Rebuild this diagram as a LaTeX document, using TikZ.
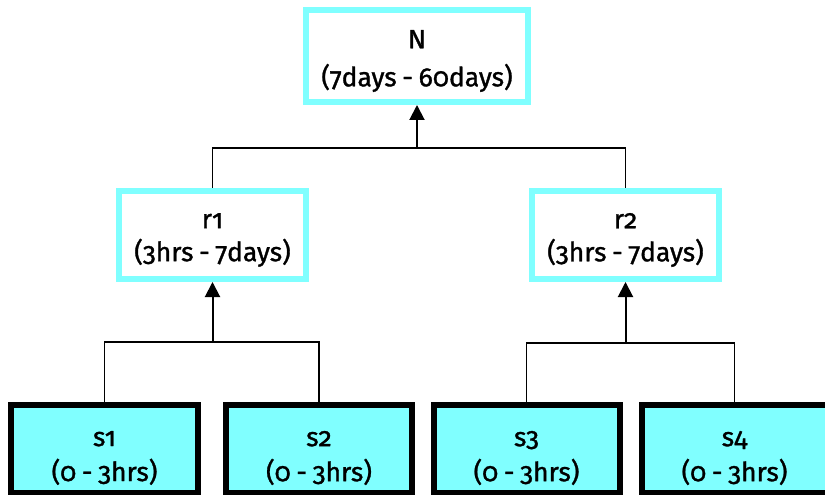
\documentclass[tikz,border=0pt]{standalone}
\usepackage{fontspec}
\setmainfont{Fira Sans}[Numbers=OldStyle, FakeBold=1.2, WordSpace=0.8]
\usetikzlibrary{arrows.meta}
\definecolor{boxcyan}{HTML}{80FFFF}
\tikzset{
  topbox/.style={draw=boxcyan, line width=6bp, fill=white, minimum width=187bp, minimum height=88bp, inner sep=0pt},
  leafbox/.style={draw=black, line width=6bp, fill=boxcyan, minimum width=186bp, minimum height=88bp, inner sep=0pt},
  txt/.style={font=\fontsize{26.5bp}{33bp}\selectfont, align=center, inner sep=0pt},
  conn/.style={line width=1.5bp, black},
  arr/.style={line width=2bp, black, -{Triangle[width=15bp,length=15bp]}}
}
\begin{document}
\begin{tikzpicture}[x=1bp,y=-1bp]
\useasboundingbox (0,0) rectangle (825,495);
% boxes
\node[topbox, minimum width=222bp, minimum height=92bp] (N) at (417,56) {};
\node[txt] (Nt) at (417,61) {N\\[5bp](7days - 60days)};
\node[topbox] (r1) at (212.5,235) {};
\node[txt] (r1t) at (212.5,240) {r1\\(3hrs - 7days)};
\node[topbox] (r2) at (625.5,235) {};
\node[txt] (r2t) at (625.5,240) {r2\\(3hrs - 7days)};
\node[leafbox] (s1) at (104.5,449) {};
\node[txt] (s1t) at (104.5,458) {s1\\[2bp](0 - 3hrs)};
\node[leafbox] (s2) at (319,449) {};
\node[txt] (s2t) at (319,458) {s2\\[2bp](0 - 3hrs)};
\node[leafbox] (s3) at (526.5,449) {};
\node[txt] (s3t) at (526.5,458) {s3\\[2bp](0 - 3hrs)};
\node[leafbox] (s4) at (734.5,449) {};
\node[txt] (s4t) at (734.5,458) {s4\\[2bp](0 - 3hrs)};
% junctions
\coordinate (j0) at (417,148);
\coordinate (j1) at (212.5,342);
\coordinate (j2) at (625.5,343);
% connectors
\draw[conn] (r1.north) |- (j0) -| (r2.north);
\draw[arr] (j0) -- (N.south);
\draw[conn] (s1.north) |- (j1) -| (s2.north);
\draw[arr] (j1) -- (r1.south);
\draw[conn] (s3.north) |- (j2) -| (s4.north);
\draw[arr] (j2) -- (r2.south);
\end{tikzpicture}
\end{document}
